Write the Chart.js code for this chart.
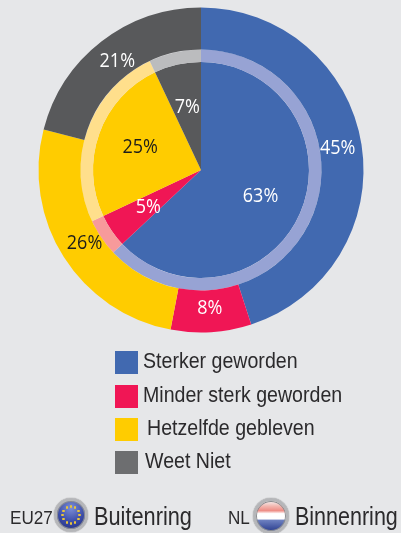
<!DOCTYPE html>
<html><head><meta charset="utf-8">
<script src="https://cdn.jsdelivr.net/npm/chart.js@4"></script>
<style>
html,body{margin:0;padding:0;background:#E6E7E9;width:401px;height:533px;overflow:hidden}
#wrap{position:relative;width:401px;height:533px}
canvas{position:absolute;left:0;top:0}
.t{position:absolute;font-family:"Liberation Sans",Arial,sans-serif;color:#2b2a2c;white-space:nowrap;transform-origin:0 50%}
.sw{position:absolute;width:23px;height:23px;left:115px}
.flag{position:absolute;border-radius:50%;box-sizing:border-box;border:3px solid #b5b6b9;box-shadow:0 0 0 1px #8a8c8f inset,0 0 1px #555}
.star{position:absolute;width:2.4px;height:2.4px;border-radius:50%;background:#e9c53a}
</style></head><body><div id="wrap"><canvas id="c" width="401" height="533"></canvas></div>
<script>
const categories = ["Sterker geworden","Minder sterk geworden","Hetzelfde gebleven","Weet Niet"];
const buitenring = [45,8,26,21];
const binnenring = [63,5,25,7];
const colors = ["#4169B0","#F01655","#FFCC00","#58595B"];
const ringColors = ["#97A3D4","#F79A9B","#FFDF8C","#BBBCBE"];
const legendColors = ["#4169B0","#F01655","#FFCC00","#6D6E70"];
const labelColors = ["#fff","#fff","#1d1d1b","#fff"];
const innerOffsets = [[10,5],[-8,7],[-10,-4],[-2,-10]];
const outerOffsets = [[-3,0],[0,-3],[3,-3],[3,3]];

const pctLabels = {
  id:'pctLabels',
  afterDatasetsDraw(chart){
    const ctx = chart.ctx;
    ctx.textAlign='center'; ctx.textBaseline='middle';
    ctx.font='18px "Open Sans"';
    [[2,innerOffsets],[0,outerOffsets]].forEach(([ds,off])=>{
      chart.getDatasetMeta(ds).data.forEach((arc,i)=>{
        const p = arc.getCenterPoint();
        ctx.save();
        ctx.translate(p.x+off[i][0], p.y+off[i][1]);
        ctx.scale(1,1.12);
        ctx.fillStyle = labelColors[i];
        ctx.fillText(chart.data.datasets[ds].data[i]+'%', 0, 0);
        ctx.restore();
      });
    });
  }
};

new Chart(document.getElementById('c'),{
  type:'doughnut',
  data:{labels:categories,datasets:[
    {label:'EU27',data:buitenring,backgroundColor:colors,borderWidth:0,weight:42},
    {label:'NL ring',data:binnenring,backgroundColor:ringColors,borderWidth:0,weight:12.5},
    {label:'NL',data:binnenring,backgroundColor:colors,borderWidth:0,weight:108}
  ]},
  options:{responsive:false,animation:false,cutout:0,
    layout:{padding:{left:38.5,right:37.5,top:7.5,bottom:200.5}},
    plugins:{legend:{display:false},tooltip:{enabled:false}}},
  plugins:[pctLabels]
});

const wrap=document.getElementById('wrap');
function text(s,x,cy,size,sx){
  const e=document.createElement('div');e.className='t';e.textContent=s;
  e.style.left=x+'px';e.style.top=(cy-size*0.6)+'px';e.style.fontSize=size+'px';e.style.lineHeight=(size*1.2)+'px';
  e.style.transform='scaleX('+(sx||1)+')';wrap.appendChild(e);
}
const legendY=[351,385,418,451];
const legendX=[143,143,147,145];
categories.forEach((c,i)=>{
  const s=document.createElement('div');s.className='sw';s.style.top=legendY[i]+'px';s.style.background=legendColors[i];wrap.appendChild(s);
  text(c,legendX[i],legendY[i]+10.5,22,0.89);
});
text('EU27',10,518,19,0.9);
text('Buitenring',94,516,25,0.87);
text('NL',228,518,19,0.9);
text('Binnenring',295,516,25,0.86);
function flag(cx,cy,r,bg){
  const f=document.createElement('div');f.className='flag';
  f.style.left=(cx-r)+'px';f.style.top=(cy-r)+'px';f.style.width=2*r+'px';f.style.height=2*r+'px';f.style.background=bg;wrap.appendChild(f);
}
flag(71,515,17,'radial-gradient(circle at 50% 25%,#7d8fd6,#3a4ba6 55%,#232f80 95%)');
for(let i=0;i<12;i++){
  const a=i*Math.PI/6, d=document.createElement('div');d.className='star';
  d.style.left=(71+8.5*Math.cos(a)-1.2)+'px';d.style.top=(515+8.5*Math.sin(a)-1.2)+'px';wrap.appendChild(d);
}
flag(271,516,18,'linear-gradient(#f5f0f0 0,#f2b4ad 18%,#ee8d86 32%,#fff 42%,#fff 60%,#6d80c0 64%,#2c3f8f 100%)');
</script></body></html>
